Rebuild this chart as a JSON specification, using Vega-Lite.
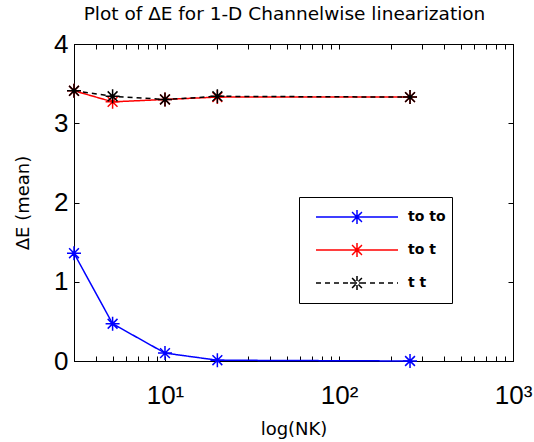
{
  "$schema": "https://vega.github.io/schema/vega-lite/v6.json",
  "autosize": {"type": "none"},
  "width": 439,
  "height": 317,
  "padding": {"left": 74, "top": 44, "right": 21, "bottom": 81},
  "background": "white",
  "title": {"text": "Plot of ΔE for 1-D Channelwise linearization", "font": "DejaVu Sans", "fontSize": 18.5, "fontWeight": "normal", "color": "black", "anchor": "middle", "offset": 8, "dx": -9},
  "config": {
    "view": {"stroke": "black", "strokeWidth": 1},
    "axis": {"grid": false, "domainColor": "black", "tickColor": "black", "labelColor": "black", "titleColor": "black", "labelFont": "Liberation Sans", "labelFontSize": 26, "titleFont": "DejaVu Sans", "titleFontSize": 18, "titleFontWeight": "normal", "tickSize": -5}
  },
  "data": {"values": [
    {"nk": 3, "de": 1.36, "series": "to to"},
    {"nk": 5, "de": 0.47, "series": "to to"},
    {"nk": 10, "de": 0.10, "series": "to to"},
    {"nk": 20, "de": 0.01, "series": "to to"},
    {"nk": 256, "de": 0.0, "series": "to to"},
    {"nk": 3, "de": 3.41, "series": "to t"},
    {"nk": 5, "de": 3.27, "series": "to t"},
    {"nk": 10, "de": 3.30, "series": "to t"},
    {"nk": 20, "de": 3.33, "series": "to t"},
    {"nk": 256, "de": 3.33, "series": "to t"},
    {"nk": 3, "de": 3.41, "series": "t t"},
    {"nk": 5, "de": 3.34, "series": "t t"},
    {"nk": 10, "de": 3.30, "series": "t t"},
    {"nk": 20, "de": 3.34, "series": "t t"},
    {"nk": 256, "de": 3.33, "series": "t t"}
  ]},
  "layer": [
    {
      "mark": {"type": "line", "strokeWidth": 1.5},
      "encoding": {
        "x": {"field": "nk", "type": "quantitative", "scale": {"type": "log", "domain": [3, 1000], "nice": false},
          "axis": {"orient": "bottom", "title": "log(NK)", "values": [3,4,5,6,7,8,9,10,20,30,40,50,60,70,80,90,100,200,300,400,500,600,700,800,900,1000],
            "labelExpr": "datum.value==10?'10¹':datum.value==100?'10²':datum.value==1000?'10³':''", "labelOverlap": false, "labelFlush": false, "labelBound": false, "labelPadding": 26, "titlePadding": 12}},
        "y": {"field": "de", "type": "quantitative", "scale": {"domain": [0, 4], "nice": false, "zero": false},
          "axis": {"orient": "left", "title": "ΔE (mean)", "values": [0,1,2,3,4], "labelPadding": 11, "titlePadding": 21}},
        "color": {"field": "series", "type": "nominal", "scale": {"domain": ["to to", "to t", "t t"], "range": ["#0000ff", "#ff0000", "#000000"]},
          "legend": {"title": null, "orient": "none", "legendX": 225, "legendY": 153,
            "symbolType": "M-1,0L1,0M0,-0.17L0,0.17M-0.17,0L0.17,0M-0.12,-0.12L0.12,0.12M-0.12,0.12L0.12,-0.12",
            "symbolSize": 6724, "symbolStrokeWidth": 1.5, "symbolFillColor": "transparent", "clipHeight": 28, "rowPadding": 5, "padding": 6, "symbolOffset": 10, "labelOffset": 9,
            "labelFont": "DejaVu Sans", "labelFontWeight": "bold", "labelFontSize": 14, "labelColor": "black", "strokeColor": "black", "fillColor": "white", "labelLimit": 200}},
        "strokeDash": {"field": "series", "type": "nominal", "scale": {"domain": ["to to", "to t", "t t"], "range": [[1, 0], [1, 0], [5, 4]]}}
      }
    },
    {
      "mark": {"type": "point", "shape": "M0,-1L0,1M-1,0L1,0M-0.7,-0.7L0.7,0.7M-0.7,0.7L0.7,-0.7", "filled": false, "size": 196, "strokeWidth": 1.5, "opacity": 1},
      "encoding": {
        "x": {"field": "nk", "type": "quantitative", "scale": {"type": "log", "domain": [3, 1000], "nice": false},
          "axis": {"orient": "top", "labels": false, "title": null, "values": [3,4,5,6,7,8,9,10,20,30,40,50,60,70,80,90,100,200,300,400,500,600,700,800,900,1000]}},
        "y": {"field": "de", "type": "quantitative", "scale": {"domain": [0, 4], "nice": false, "zero": false},
          "axis": {"orient": "right", "labels": false, "title": null, "values": [0,1,2,3,4]}},
        "color": {"field": "series", "type": "nominal", "scale": {"domain": ["to to", "to t", "t t"], "range": ["#0000ff", "#ff0000", "#000000"]}, "legend": null}
      }
    }
  ],
  "resolve": {"axis": {"x": "independent", "y": "independent"}}
}
